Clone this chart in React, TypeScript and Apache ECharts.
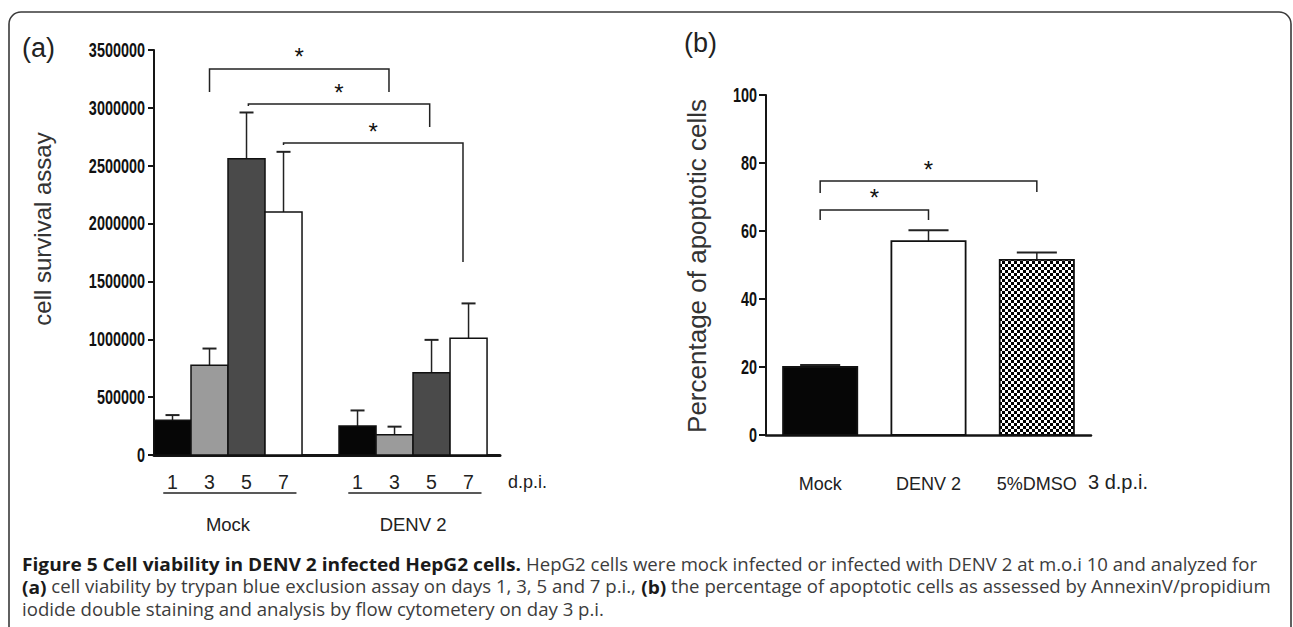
import React, { useEffect, useRef } from 'react';
import * as echarts from 'echarts';

// ---------- data: panel (a) cell survival ----------
const dayLabels = ['1', '3', '5', '7'];
const groupLabels = ['Mock', 'DENV 2'];
const mockCells = [300000, 775000, 2560000, 2100000];
const mockCellsSD = [45000, 145000, 400000, 520000];
const denvCells = [250000, 175000, 710000, 1010000];
const denvCellsSD = [135000, 70000, 285000, 300000];
const cellTickLabels = ['0', '500000', '1000000', '1500000', '2000000', '2500000', '3000000', '3500000'];
// brackets: [left slot x, right slot x, top value, left end value, right end value]
const cellBrackets = [
  [1.5, 6.35, 3336000, 3137000, 3137000],
  [2.55, 7.45, 3033000, 3016000, 2835000],
  [3.5, 8.35, 2696000, 2679000, 1668000],
];

// ---------- data: panel (b) apoptosis ----------
const apoptosisCategories = ['Mock', 'DENV 2', '5%DMSO'];
const apoptosisValues = [20, 57, 51.5];
const apoptosisSD = [0.6, 3.2, 2.2];
const apoptosisTickLabels = ['0', '20', '40', '60', '80', '100'];
const apoptosisBrackets = [
  [0, 2, 74.7, 71.2, 71.5],
  [0, 1, 66.2, 63.2, 63.2],
];

const captionLines = [
  '{b|Figure 5 Cell viability in DENV 2 infected HepG2 cells.}{r| HepG2 cells were mock infected or infected with DENV 2 at m.o.i 10 and analyzed for}',
  '{b|(a)}{r| cell viability by trypan blue exclusion assay on days 1, 3, 5 and 7 p.i., }{b|(b)}{r| the percentage of apoptotic cells as assessed by AnnexinV/propidium}',
  '{r|iodide double staining and analysis by flow cytometery on day 3 p.i.}',
];

const SANS = "'Liberation Sans', Arial, sans-serif";
const dayFills = ['#060606', '#9b9b9b', '#4a4a4a', '#ffffff'];

export default function App() {
  const ref = useRef<HTMLDivElement>(null);

  useEffect(() => {
    if (!ref.current) return;
    const chart = echarts.init(ref.current, null, { renderer: 'svg' });

    const cv = document.createElement('canvas');
    cv.width = 6;
    cv.height = 6;
    const ctx = cv.getContext('2d')!;
    ctx.fillStyle = '#000';
    ctx.fillRect(0, 0, 6, 6);
    ctx.fillStyle = '#fff';
    ctx.fillRect(0, 0, 3, 3);
    ctx.fillRect(3, 3, 3, 3);
    const checker: any = { image: cv, repeat: 'repeat', imageWidth: 6, imageHeight: 6 };
    const bFills: any[] = ['#060606', '#ffffff', checker];

    const cellData: number[][] = [];
    mockCells.forEach((v, i) => cellData.push([i, v, mockCellsSD[i], i]));
    denvCells.forEach((v, i) => cellData.push([i + 5, v, denvCellsSD[i], i]));
    const slotCenters: number[] = [];
    dayLabels.forEach((_, i) => slotCenters.push(i + 0.5));
    dayLabels.forEach((_, i) => slotCenters.push(i + 5.5));
    const groupData = groupLabels.map((_, g) => [g * 5, g * 5 + dayLabels.length, g]);
    const apoData = apoptosisValues.map((v, i) => [i, v, apoptosisSD[i]]);

    const bracketRender = (params: any, api: any) => {
      const xl = api.value(0), xr = api.value(1), yt = api.value(2), yl = api.value(3), yr = api.value(4);
      const p1 = api.coord([xl, yl]);
      const p2 = api.coord([xl, yt]);
      const p3 = api.coord([xr, yt]);
      const p4 = api.coord([xr, yr]);
      return {
        type: 'group',
        children: [
          {
            type: 'polyline',
            shape: { points: [p1, p2, p3, p4] },
            style: { stroke: '#222', lineWidth: 1.5, fill: 'none' },
          },
          {
            type: 'text',
            x: (p2[0] + p3[0]) / 2,
            y: p2[1] - 12,
            style: { text: '*', fontSize: 24, fontFamily: SANS, fill: '#111', align: 'center', verticalAlign: 'middle' },
          },
        ],
      };
    };

    // narrow bold y tick labels
    const tickRender = (labels: string[], margin: number) => (params: any, api: any) => {
      const idx = params.dataIndex;
      const p = api.coord([0, api.value(1)]);
      return {
        type: 'text',
        x: params.coordSys.x - margin,
        y: p[1],
        scaleX: 0.74,
        style: {
          text: labels[idx],
          fontSize: 19.5,
          fontWeight: 'bold',
          fontFamily: SANS,
          fill: '#111',
          align: 'right',
          verticalAlign: 'middle',
        },
      };
    };

    const option: any = {
      animation: false,
      backgroundColor: '#fff',
      textStyle: { fontFamily: SANS },
      grid: [
        { left: 154, top: 50, width: 346, height: 405 },
        { left: 766, top: 95, width: 325, height: 340 },
      ],
      xAxis: [
        {
          type: 'value',
          gridIndex: 0,
          min: 0,
          max: 9.35,
          splitLine: { show: false },
          axisTick: { show: false },
          axisLine: { show: true, lineStyle: { color: '#151515', width: 3 } },
          axisLabel: {
            customValues: slotCenters,
            formatter: (v: number) => {
              const s = Math.floor(v);
              return dayLabels[s >= 5 ? s - 5 : s];
            },
            margin: 17,
            fontSize: 19.5,
            color: '#222',
            fontFamily: SANS,
          },
          name: 'd.p.i.',
          nameLocation: 'end',
          nameGap: 8,
          nameTextStyle: { fontSize: 18, color: '#222', fontFamily: SANS, verticalAlign: 'top', padding: [18, 0, 0, 0] },
        },
        {
          type: 'category',
          gridIndex: 1,
          data: apoptosisCategories,
          axisTick: { show: false },
          axisLine: { show: true, lineStyle: { color: '#151515', width: 2.5 } },
          axisLabel: { margin: 40, fontSize: 18, color: '#222', fontFamily: SANS },
          name: '3 d.p.i.',
          nameLocation: 'end',
          nameGap: -3,
          nameTextStyle: { fontSize: 20, color: '#222', fontFamily: SANS, verticalAlign: 'top', padding: [37, 0, 0, 0] },
        },
      ],
      yAxis: [
        {
          type: 'value',
          gridIndex: 0,
          min: 0,
          max: 3500000,
          interval: 500000,
          splitLine: { show: false },
          axisLine: { show: true, lineStyle: { color: '#151515', width: 2 } },
          axisTick: { show: true, length: 6, lineStyle: { color: '#151515', width: 2 } },
          axisLabel: { show: false },
        },
        {
          type: 'value',
          gridIndex: 1,
          min: 0,
          max: 100,
          interval: 20,
          splitLine: { show: false },
          axisLine: { show: true, lineStyle: { color: '#151515', width: 2 } },
          axisTick: { show: true, length: 7, lineStyle: { color: '#151515', width: 2 } },
          axisLabel: { show: false },
        },
      ],
      series: [
        {
          type: 'custom',
          name: 'cells',
          xAxisIndex: 0,
          yAxisIndex: 0,
          data: cellData,
          encode: { x: 0, y: 1 },
          renderItem: (params: any, api: any) => {
            const slot = api.value(0), v = api.value(1), sd = api.value(2), k = api.value(3);
            const bl = api.coord([slot, 0]);
            const tr = api.coord([slot + 1, v]);
            const et = api.coord([slot + 0.5, v + sd]);
            const cx = (bl[0] + tr[0]) / 2;
            return {
              type: 'group',
              children: [
                { type: 'line', shape: { x1: cx, y1: tr[1], x2: cx, y2: et[1] }, style: { stroke: '#222', lineWidth: 1.5 } },
                { type: 'line', shape: { x1: cx - 7, y1: et[1], x2: cx + 7, y2: et[1] }, style: { stroke: '#222', lineWidth: 2 } },
                {
                  type: 'rect',
                  shape: { x: bl[0], y: tr[1], width: tr[0] - bl[0], height: bl[1] - tr[1] },
                  style: { fill: dayFills[k], stroke: '#111', lineWidth: 1.5 },
                },
              ],
            };
          },
        },
        {
          type: 'custom',
          name: 'cellBrackets',
          xAxisIndex: 0,
          yAxisIndex: 0,
          data: cellBrackets,
          renderItem: bracketRender,
        },
        {
          type: 'custom',
          name: 'cellTicks',
          xAxisIndex: 0,
          yAxisIndex: 0,
          data: cellTickLabels.map((t) => [0, Number(t)]),
          encode: { x: 0, y: 1 },
          renderItem: tickRender(cellTickLabels, 9),
        },
        {
          type: 'custom',
          name: 'groups',
          xAxisIndex: 0,
          yAxisIndex: 0,
          data: groupData,
          renderItem: (params: any, api: any) => {
            const s = api.value(0), e = api.value(1), g = api.value(2);
            const a = api.coord([s + 0.25, 0]);
            const b = api.coord([e - 0.15, 0]);
            const c = api.coord([(s + e) / 2, 0]);
            return {
              type: 'group',
              children: [
                { type: 'line', shape: { x1: a[0], y1: a[1] + 38, x2: b[0], y2: b[1] + 38 }, style: { stroke: '#222', lineWidth: 1.5 } },
                {
                  type: 'text',
                  x: c[0],
                  y: c[1] + 69,
                  style: { text: groupLabels[g], fontSize: 18.5, fontFamily: SANS, fill: '#222', align: 'center', verticalAlign: 'middle' },
                },
              ],
            };
          },
        },
        {
          type: 'custom',
          name: 'apoptosis',
          xAxisIndex: 1,
          yAxisIndex: 1,
          data: apoData,
          encode: { x: 0, y: 1 },
          renderItem: (params: any, api: any) => {
            const i = api.value(0), v = api.value(1), sd = api.value(2);
            const bw = api.size([1, 0])[0] * 0.685;
            const base = api.coord([i, 0]);
            const top = api.coord([i, v]);
            const et = api.coord([i, v + sd]);
            const cx = base[0];
            return {
              type: 'group',
              children: [
                { type: 'line', shape: { x1: cx, y1: top[1], x2: cx, y2: et[1] }, style: { stroke: '#222', lineWidth: 1.5 } },
                { type: 'line', shape: { x1: cx - bw * 0.27, y1: et[1], x2: cx + bw * 0.27, y2: et[1] }, style: { stroke: '#222', lineWidth: 2 } },
                {
                  type: 'rect',
                  shape: { x: cx - bw / 2, y: top[1], width: bw, height: base[1] - top[1] },
                  style: { fill: bFills[i], stroke: '#111', lineWidth: 1.8 },
                },
              ],
            };
          },
        },
        {
          type: 'custom',
          name: 'apoptosisBrackets',
          xAxisIndex: 1,
          yAxisIndex: 1,
          data: apoptosisBrackets,
          renderItem: bracketRender,
        },
        {
          type: 'custom',
          name: 'apoptosisTicks',
          xAxisIndex: 1,
          yAxisIndex: 1,
          data: apoptosisTickLabels.map((t) => [0, Number(t)]),
          encode: { x: 0, y: 1 },
          renderItem: tickRender(apoptosisTickLabels, 9),
        },
      ],
      graphic: [
        {
          type: 'rect',
          silent: true,
          shape: { x: 9, y: 12, width: 1282, height: 700, r: 12 },
          style: { fill: 'none', stroke: '#3a3a3a', lineWidth: 1.6 },
        },
        { type: 'text', x: 22, y: 48, style: { text: '(a)', fontSize: 27, fontFamily: SANS, fill: '#222', verticalAlign: 'middle' } },
        { type: 'text', x: 684, y: 43, style: { text: '(b)', fontSize: 27, fontFamily: SANS, fill: '#222', verticalAlign: 'middle' } },
        {
          type: 'text',
          x: 42,
          y: 229,
          rotation: Math.PI / 2,
          style: { text: 'cell survival assay', fontSize: 24, fontFamily: SANS, fill: '#333', align: 'center', verticalAlign: 'middle' },
        },
        {
          type: 'text',
          x: 697,
          y: 266,
          rotation: Math.PI / 2,
          style: { text: 'Percentage of apoptotic cells', fontSize: 26, fontFamily: SANS, fill: '#333', align: 'center', verticalAlign: 'middle' },
        },
        ...captionLines.map((t, i) => ({
          type: 'text',
          x: 22,
          y: 564 + i * 22.5,
          scaleX: 1.063,
          style: {
            text: t,
            verticalAlign: 'middle',
            rich: {
              b: { fontFamily: "'Open Sans', sans-serif", fontWeight: 'bold', fontSize: 18, lineHeight: 19, fill: '#1a1a1a' },
              r: { fontFamily: "'Open Sans', sans-serif", fontSize: 17.5, lineHeight: 19, fill: '#3c3c3c' },
            },
          },
        })),
      ],
    };

    chart.setOption(option);
    return () => chart.dispose();
  }, []);

  return (
    <div
      ref={ref}
      style={{ position: 'fixed', left: 0, top: 0, width: 1293, height: 627, background: '#fff' }}
    />
  );
}
